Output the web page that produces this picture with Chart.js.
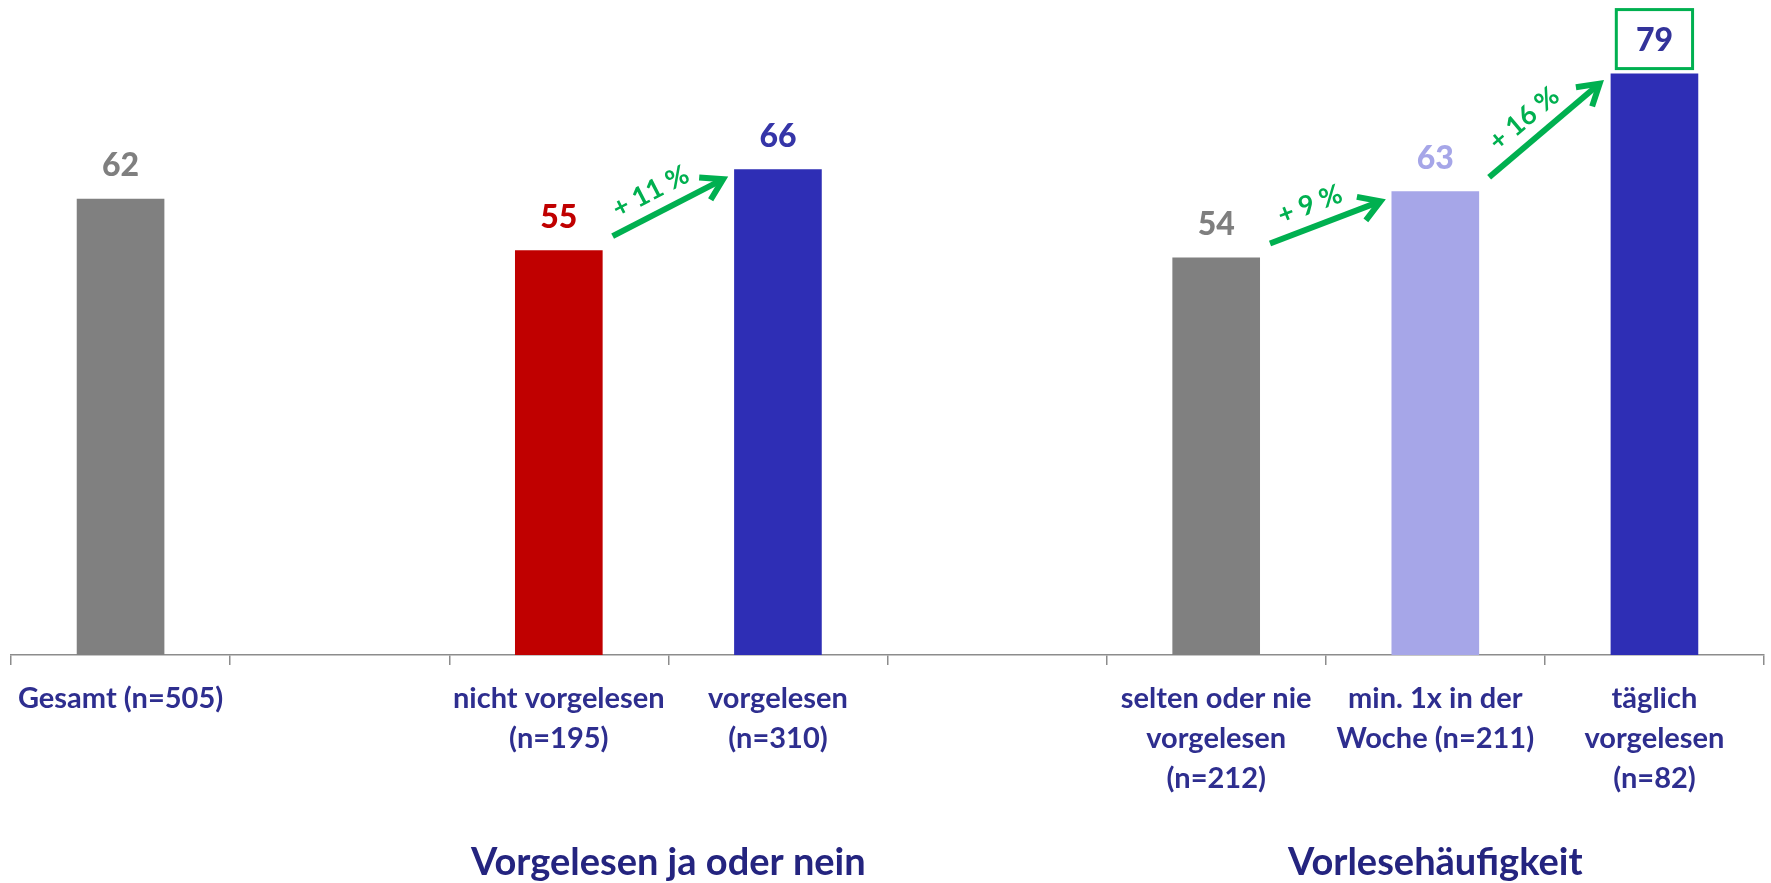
<!DOCTYPE html>
<html>
<head>
<meta charset="utf-8">
<script src="https://cdn.jsdelivr.net/npm/chart.js@4"></script>
<style>
    html, body { margin: 0; padding: 0; background: #fff; }
    #wrap { width: 1771px; height: 883px; position: relative; }
</style>
</head>
<body>
<div id="wrap"><canvas id="myChart"></canvas></div>
<script>
// categories (empty slots are the gaps between the groups)
const categories = [
    ["Gesamt (n=505)"],
    [""],
    ["nicht vorgelesen", "(n=195)"],
    ["vorgelesen", "(n=310)"],
    [""],
    ["selten oder nie", "vorgelesen", "(n=212)"],
    ["min. 1x in der", "Woche (n=211)"],
    ["täglich", "vorgelesen", "(n=82)"]
];
const values = [62, null, 55, 66, null, 54, 63, 79];
const barColors = ["#808080", null, "#C00000", "#2E2EB5", null, "#808080", "#A6A6E8", "#2E2EB5"];
const valueColors = ["#7F7F7F", null, "#C00000", "#3535A8", null, "#7F7F7F", "#A6A6E8", "#33339A"];

const groupTitles = ["Vorgelesen ja oder nein", "Vorlesehäufigkeit"];
const groupFrom = [2, 5];
const groupTo = [3, 7];

const arrowFrom = [2, 5, 6];
const arrowTo = [3, 6, 7];
const arrowTexts = ["+ 11 %", "+ 9 %", "+ 16 %"];
const boxedIndex = 7;

const FONT = "Lato, 'Open Sans', sans-serif";
const GREEN = "#00B050";

function drawArrow(ctx, x1, y1, x2, y2, text) {
    const ang = Math.atan2(y2 - y1, x2 - x1);
    ctx.save();
    ctx.strokeStyle = GREEN;
    ctx.lineWidth = 6;
    ctx.lineCap = "butt";
    ctx.beginPath();
    ctx.moveTo(x1, y1);
    ctx.lineTo(x2 - 3 * Math.cos(ang), y2 - 3 * Math.sin(ang));
    ctx.stroke();
    // chevron head
    const head = 24;
    ctx.lineJoin = "miter";
    ctx.beginPath();
    ctx.moveTo(x2 - head * Math.cos(ang - 0.55), y2 - head * Math.sin(ang - 0.55));
    ctx.lineTo(x2, y2);
    ctx.lineTo(x2 - head * Math.cos(ang + 0.55), y2 - head * Math.sin(ang + 0.55));
    ctx.stroke();

    // text above the arrow
    const mx = (x1 + x2) / 2 - 8 * Math.cos(ang);
    const my = (y1 + y2) / 2 - 8 * Math.sin(ang);
    ctx.translate(mx + 22 * Math.sin(ang), my - 22 * Math.cos(ang));
    ctx.rotate(ang);
    ctx.fillStyle = GREEN;
    ctx.font = "bold 27px " + FONT;
    ctx.textAlign = "center";
    ctx.textBaseline = "middle";
    ctx.fillText(text, 0, 0);
    ctx.restore();
}

const extras = {
    id: "extras",
    afterDatasetsDraw(chart) {
        const ctx = chart.ctx;
        const meta = chart.getDatasetMeta(0);
        const xScale = chart.scales.x;
        ctx.save();
        ctx.textAlign = "center";
        ctx.textBaseline = "middle";
        ctx.font = "900 32px " + FONT;
        meta.data.forEach((bar, i) => {
            if (values[i] == null) return;
            ctx.fillStyle = valueColors[i];
            ctx.fillText(values[i], bar.x, bar.y - 33);
            if (i === boxedIndex) {
                ctx.strokeStyle = GREEN;
                ctx.lineWidth = 3;
                const w = bar.width * 0.87;
                ctx.strokeRect(bar.x - w / 2, bar.y - 64, w, 59);
            }
        });

        for (let k = 0; k < arrowFrom.length; k++) {
            const a = meta.data[arrowFrom[k]];
            const b = meta.data[arrowTo[k]];
            drawArrow(ctx,
                a.x + a.width / 2 + 10, a.y - 14,
                b.x - b.width / 2 - 11, b.y + 10,
                arrowTexts[k]);
        }

        // group titles below the tick labels
        ctx.fillStyle = "#24247F";
        ctx.font = "bold 38px " + FONT;
        for (let g = 0; g < groupTitles.length; g++) {
            const cx = (xScale.getPixelForValue(groupFrom[g]) + xScale.getPixelForValue(groupTo[g])) / 2;
            ctx.fillText(groupTitles[g], cx, chart.chartArea.bottom + 208);
        }
        ctx.restore();
    }
};

const inputs = {
    labels: categories,
    datasets: [{
        data: values,
        backgroundColor: barColors,
        categoryPercentage: 1,
        barPercentage: 0.4
    }]
};

const config = {
    type: "bar",
    data: inputs,
    options: {
        responsive: true,
        maintainAspectRatio: false,
        animation: false,
        layout: { padding: { left: 11, right: 7, top: 0, bottom: 70 } },
        plugins: {
            legend: { display: false },
            tooltip: { enabled: false }
        },
        scales: {
            x: {
                offset: true,
                grid: {
                    offset: true,
                    drawOnChartArea: false,
                    drawTicks: true,
                    tickLength: 10,
                    color: "#8C8C8C",
                    lineWidth: 1.5
                },
                border: { color: "#8C8C8C", width: 1.5 },
                ticks: {
                    color: "#2E2E8F",
                    autoSkip: false,
                    maxRotation: 0,
                    padding: 14,
                    font: { family: FONT, size: 29, weight: "bold", lineHeight: 1.38 }
                }
            },
            y: {
                display: false,
                min: 0,
                max: 89
            }
        }
    },
    plugins: [extras]
};

var myChart = new Chart(document.getElementById("myChart"), config);
</script>
</body>
</html>
